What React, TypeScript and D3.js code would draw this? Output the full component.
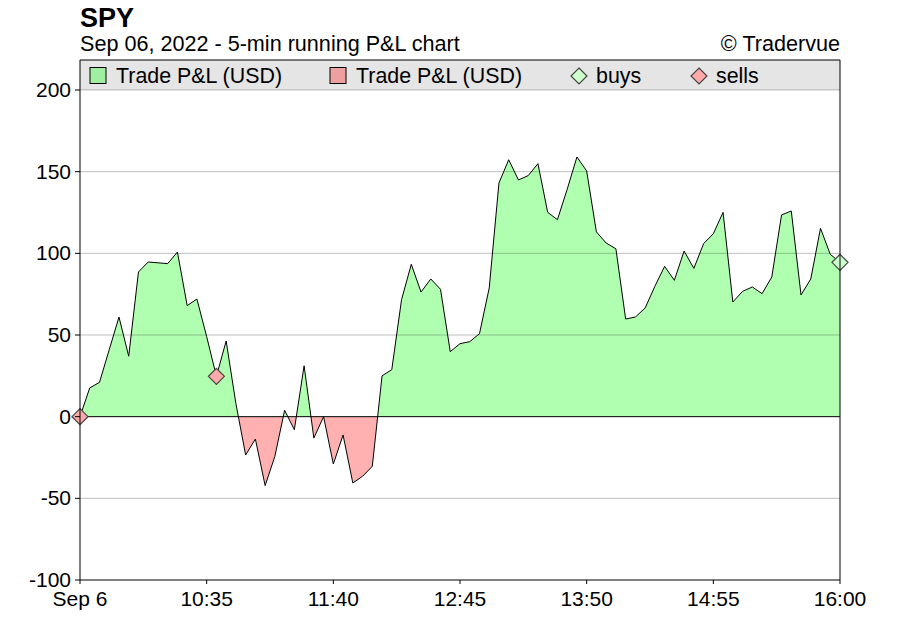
import React from 'react';
import * as d3 from 'd3';

// running P&L, one value per 5-minute bar from 09:30 to 16:00
const pnl = [
  0, 17.6, 21, 41, 61, 37, 88.6, 94.7, 94.2, 93.7,
  100.8, 68, 72, 49, 24.7, 46.3, 8, -23.5, -13.7, -42.2,
  -24.3, 3.9, -8, 31.2, -13.1, 0, -29, -11.2, -40.6, -36.5,
  -30.4, 25, 28.8, 71.6, 93.3, 76.3, 84.3, 78, 39.8, 44.7,
  45.9, 50.8, 78.8, 143.1, 157.3, 144.9, 147.6, 154.9, 125.1, 120.6,
  139.2, 159, 150.4, 113.1, 106.3, 102.8, 59.8, 61, 66.5, 79.8,
  92, 83.5, 101.4, 90.8, 105.9, 112, 125.1, 70.2, 76.7, 79.4,
  75.3, 85.5, 123.5, 125.9, 74.5, 84.3, 115.3, 99.4, 94.5,
];
const sellBars = [0, 14];
const buyBars = [78];
const yTicks = [-100, -50, 0, 50, 100, 150, 200];
const xTickTimes = ['09:30', '10:35', '11:40', '12:45', '13:50', '14:55', '16:00'];
const xTickLabels = ['Sep 6', '10:35', '11:40', '12:45', '13:50', '14:55', '16:00'];
const legendItems = ['Trade P&L (USD)', 'Trade P&L (USD)', 'buys', 'sells'];

const FONT = '"Liberation Sans", Arial, Helvetica, sans-serif';
const W = 900;
const H = 620;
const M = { left: 80, right: 840, top: 90, bottom: 580 };

const parse = d3.timeParse('%Y-%m-%d %H:%M');
const start = parse('2022-09-06 09:30') as Date;
const end = parse('2022-09-06 16:00') as Date;
const barTime = (i: number) => d3.timeMinute.offset(start, i * 5);

const x = d3.scaleTime().domain([start, end]).range([M.left, M.right]);
const y = d3.scaleLinear().domain([-100, 200]).range([M.bottom, M.top]);

const pts = pnl.map((v, i) => ({ t: barTime(i), v }));

const area = d3.area<{ t: Date; v: number }>()
  .x(d => x(d.t))
  .y0(y(0))
  .y1(d => y(d.v));
const line = d3.line<{ t: Date; v: number }>()
  .x(d => x(d.t))
  .y(d => y(d.v));

const diamond = (cx: number, cy: number, r: number) =>
  `M${cx},${cy - r}L${cx + r},${cy}L${cx},${cy + r}L${cx - r},${cy}Z`;

export default function App() {
  const zeroY = y(0);
  const legendX = [90, 330, 579, 699];
  return (
    <svg width={W} height={H} style={{ position: 'absolute', left: 0, top: 0, background: '#fff' }} fontFamily={FONT}>
      <defs>
        <clipPath id="above">
          <rect x={M.left} y={M.top - 40} width={M.right - M.left} height={zeroY - M.top + 40} />
        </clipPath>
        <clipPath id="below">
          <rect x={M.left} y={zeroY} width={M.right - M.left} height={M.bottom - zeroY} />
        </clipPath>
      </defs>

      {/* titles */}
      <text x={80} y={27} fontSize={27} fontWeight="bold" fill="#000">SPY</text>
      <text x={80} y={51} fontSize={21.6} fill="#000">Sep 06, 2022 - 5-min running P&amp;L chart</text>
      <text x={840} y={51} fontSize={21.6} fill="#000" textAnchor="end">© Tradervue</text>

      {/* legend band */}
      <rect x={M.left} y={60} width={M.right - M.left} height={30} fill="#e5e5e5" />

      {/* areas */}
      <path d={area(pts) ?? ''} fill="#b0ffb0" clipPath="url(#above)" />
      <path d={area(pts) ?? ''} fill="#ffb0b0" clipPath="url(#below)" />

      {/* grid */}
      {yTicks.filter(t => t !== 0 && t !== -100).map(t => (
        <line key={t} x1={M.left} x2={M.right} y1={y(t)} y2={y(t)} stroke="#000" strokeOpacity={0.25} />
      ))}
      <line x1={M.left} x2={M.right} y1={zeroY} y2={zeroY} stroke="#000" />

      <path d={line(pts) ?? ''} fill="none" stroke="#000" strokeWidth={1} strokeLinejoin="round" />

      {/* trade markers */}
      {sellBars.map(i => (
        <path key={'s' + i} d={diamond(x(barTime(i)), y(pnl[i]), 8)} fill="#ffaaaa" stroke="#444" strokeWidth={1.2} />
      ))}
      {buyBars.map(i => (
        <path key={'b' + i} d={diamond(x(barTime(i)), y(pnl[i]), 8)} fill="#ccffcc" stroke="#444" strokeWidth={1.2} />
      ))}

      {/* frame */}
      <line x1={M.left} x2={M.right} y1={60} y2={60} stroke="#000" />
      <line x1={M.left} x2={M.left} y1={60} y2={M.bottom} stroke="#000" />
      <line x1={M.right} x2={M.right} y1={60} y2={M.bottom} stroke="#000" />
      <line x1={M.left} x2={M.right} y1={M.bottom} y2={M.bottom} stroke="#000" />

      {/* y axis */}
      {yTicks.map(t => (
        <g key={t}>
          <line x1={M.left - 5} x2={M.left} y1={y(t)} y2={y(t)} stroke="#000" />
          <text x={M.left - 9} y={y(t) + 7} fontSize={21} textAnchor="end" fill="#000">{t}</text>
        </g>
      ))}

      {/* x axis */}
      {xTickTimes.map((s, i) => {
        const tx = x(parse('2022-09-06 ' + s) as Date);
        return (
          <g key={s}>
            <line x1={tx} x2={tx} y1={M.bottom} y2={M.bottom + 4} stroke="#000" />
            <text x={tx} y={606} fontSize={21} textAnchor="middle" fill="#000">{xTickLabels[i]}</text>
          </g>
        );
      })}

      {/* legend */}
      <rect x={legendX[0]} y={67.5} width={16} height={16} fill="#a0eea0" stroke="#000" />
      <text x={legendX[0] + 26} y={83} fontSize={21.4} fill="#000">{legendItems[0]}</text>
      <rect x={legendX[1]} y={67.5} width={16} height={16} fill="#eea0a0" stroke="#000" />
      <text x={legendX[1] + 26} y={83} fontSize={21.4} fill="#000">{legendItems[1]}</text>
      <path d={diamond(legendX[2], 76, 8)} fill="#ccffcc" stroke="#444" strokeWidth={1.2} />
      <text x={legendX[2] + 17} y={83} fontSize={21.4} fill="#000">{legendItems[2]}</text>
      <path d={diamond(legendX[3], 76, 8)} fill="#ffaaaa" stroke="#444" strokeWidth={1.2} />
      <text x={legendX[3] + 17} y={83} fontSize={21.4} fill="#000">{legendItems[3]}</text>
    </svg>
  );
}
